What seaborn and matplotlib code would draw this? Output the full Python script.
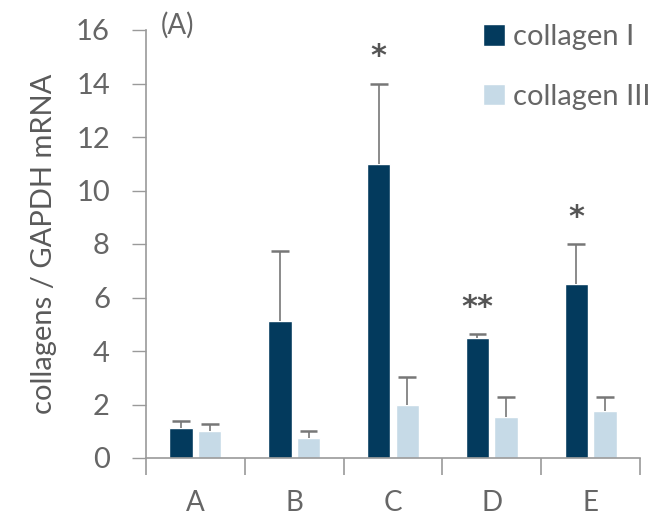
import pandas as pd
import seaborn as sns
import matplotlib
matplotlib.use("Agg", force=True)
import matplotlib.pyplot as plt

groups = ["A", "B", "C", "D", "E"]
series = ["collagen I", "collagen III"]
col1_mean = [1.13, 5.12, 11.0, 4.5, 6.5]
col1_err = [0.26, 2.62, 3.0, 0.13, 1.5]
col3_mean = [1.0, 0.76, 2.0, 1.52, 1.76]
col3_err = [0.28, 0.26, 1.03, 0.75, 0.51]
stars = {"C": "*", "D": "**", "E": "*"}

colors = ["#033a5d", "#c6dae7"]
text_gray = "#666666"
line_gray = "#9a9a9a"

df = pd.DataFrame({
    "group": groups * 2,
    "series": [series[0]] * 5 + [series[1]] * 5,
    "value": col1_mean + col3_mean,
    "err": col1_err + col3_err,
})

sns.set_theme(style="white")
plt.rcParams["font.family"] = ["Lato", "DejaVu Sans"]

fig = plt.figure(figsize=(6.62, 5.18), dpi=100)
ax = fig.add_axes([146 / 662, 1 - 458 / 518, (640 - 146) / 662, (458 - 30) / 518])

sns.barplot(data=df, x="group", y="value", hue="series", palette=colors,
            width=0.58, gap=0.18, errorbar=None, saturation=1, ax=ax)

# upper-only error bars, placed on the bars seaborn drew
cap_hw = 0.09
for cont, s in zip(ax.containers, series):
    sub = df[df.series == s]
    xs = [p.get_x() + p.get_width() / 2 for p in cont.patches]
    tops = sub["value"].values + sub["err"].values
    ax.vlines(xs, sub["value"].values, tops, color="#777777", lw=1.2, zorder=3)
    ax.hlines(tops, [x - cap_hw for x in xs], [x + cap_hw for x in xs],
              color="#777777", lw=1.8, zorder=3)

# significance marks over collagen I
for i, g in enumerate(groups):
    if g in stars:
        p = ax.containers[0].patches[i]
        x = p.get_x() + p.get_width() / 2
        top = col1_mean[i] + col1_err[i]
        ax.text(x, top + 0.45, stars[g], ha="center", va="bottom", fontsize=22,
                fontweight="bold", color="#555555", family="DejaVu Sans")

ax.set_xlim(-0.5, 4.5)
ax.set_ylim(0, 16)
ax.set_yticks(range(0, 17, 2))
ax.set_xticks([i - 0.5 for i in range(6)], minor=True)
ax.tick_params(axis="x", which="major", length=0, pad=23, labelsize=20, labelcolor=text_gray)
ax.tick_params(axis="x", which="minor", length=12, width=1.2, color=line_gray, direction="out", bottom=True)
ax.tick_params(axis="y", length=10, width=1, color=line_gray, direction="out", left=True,
               labelsize=21, labelcolor=text_gray, pad=16)
ax.set_xlabel("")
ax.set_ylabel("collagens / GAPDH mRNA", fontsize=21, color="#5a5a5a", labelpad=14)

sns.despine(ax=ax)
for sp in ["left", "bottom"]:
    ax.spines[sp].set_color(line_gray)
    ax.spines[sp].set_linewidth(1.2)

ax.text(0.03, 1.01, "(A)", transform=ax.transAxes, fontsize=20, color=text_gray,
        ha="left", va="center")

leg = ax.legend(loc="upper left", bbox_to_anchor=(0.63, 1.075), frameon=False,
                fontsize=21, handlelength=0.75, handleheight=0.75, handletextpad=0.25,
                labelspacing=1.15, labelcolor=text_gray)

fig.savefig("out.png", dpi=100)
